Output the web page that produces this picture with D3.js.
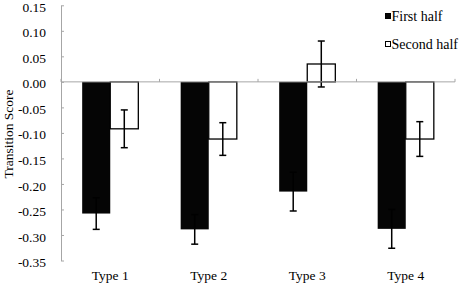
<!DOCTYPE html>
<html>
<head>
<meta charset="utf-8">
<script src="https://cdn.jsdelivr.net/npm/d3@7"></script>
<style>
  body { margin: 0; background: #fff; }
</style>
</head>
<body>
<div id="chart"></div>
<script>
const categories = ["Type 1", "Type 2", "Type 3", "Type 4"];
const seriesNames = ["First half", "Second half"];
const firstHalf = [-0.258, -0.289, -0.215, -0.288];
const secondHalf = [-0.092, -0.112, 0.035, -0.112];
const firstErr = [0.031, 0.029, 0.038, 0.038];
const secondErr = [0.037, 0.032, 0.045, 0.034];
const yTicks = [0.15, 0.10, 0.05, 0.00, -0.05, -0.10, -0.15, -0.20, -0.25, -0.30, -0.35];

const width = 461, height = 287;
const axisColor = "#a6a6a6";
const font = "'Liberation Serif', 'Times New Roman', Times, serif";
const fontSize = 13.5;

const data = categories.map((c, i) => ({
  category: c,
  values: [
    { key: seriesNames[0], value: firstHalf[i], err: firstErr[i] },
    { key: seriesNames[1], value: secondHalf[i], err: secondErr[i] }
  ]
}));

const svg = d3.select("#chart")
  .append("svg")
  .attr("width", width)
  .attr("height", height)
  .attr("font-family", font);

const y = d3.scaleLinear()
  .domain([-0.35, 0.15])
  .range([260.5, 5.3]);

const x0 = d3.scaleBand()
  .domain(categories)
  .range([61, 455])
  .paddingInner(0.43)
  .paddingOuter(0.215);

const x1 = d3.scaleBand()
  .domain(seriesNames)
  .range([0, x0.bandwidth()]);

const fills = { "First half": "#050505", "Second half": "#ffffff" };

// y axis
const yAxis = svg.append("g")
  .attr("transform", "translate(61,0)")
  .call(d3.axisLeft(y)
    .tickValues(yTicks)
    .tickFormat(d => d.toFixed(2))
    .tickSizeInner(-3)
    .tickSizeOuter(0)
    .tickPadding(15))
  .attr("font-family", font)
  .attr("font-size", fontSize);
yAxis.select(".domain").attr("stroke", axisColor);
yAxis.selectAll(".tick line").attr("stroke", axisColor);
yAxis.selectAll(".tick text")
  .attr("fill", "#000")
  .attr("dy", "0.45em");

// bars
const groups = svg.append("g")
  .selectAll("g")
  .data(data)
  .join("g")
  .attr("transform", d => `translate(${x0(d.category)},0)`);

groups.selectAll("rect")
  .data(d => d.values)
  .join("rect")
  .attr("x", d => x1(d.key))
  .attr("y", d => y(Math.max(0, d.value)))
  .attr("width", x1.bandwidth())
  .attr("height", d => Math.abs(y(d.value) - y(0)))
  .attr("fill", d => fills[d.key])
  .attr("stroke", d => d.key === "Second half" ? "#000" : "none")
  .attr("stroke-width", 1.3);

// x axis line at zero, with ticks at category boundaries
const step = x0.step();
const boundaries = d3.range(categories.length + 1).map(i => x0.range()[0] + i * step);
const xAxis = svg.append("g");
xAxis.append("line")
  .attr("x1", x0.range()[0])
  .attr("x2", x0.range()[1])
  .attr("y1", y(0))
  .attr("y2", y(0))
  .attr("stroke", axisColor);
xAxis.selectAll(".xtick")
  .data(boundaries)
  .join("line")
  .attr("class", "xtick")
  .attr("x1", d => d)
  .attr("x2", d => d)
  .attr("y1", y(0))
  .attr("y2", y(0) - 3)
  .attr("stroke", axisColor);

// error bars
const cap = 3.5;
const errs = groups.selectAll(".err")
  .data(d => d.values)
  .join("g")
  .attr("class", "err")
  .attr("transform", d => `translate(${x1(d.key) + x1.bandwidth() / 2},0)`)
  .attr("stroke", "#000")
  .attr("stroke-width", 1.5);
errs.append("line")
  .attr("y1", d => y(d.value + d.err))
  .attr("y2", d => y(d.value - d.err));
errs.append("line")
  .attr("x1", -cap).attr("x2", cap)
  .attr("y1", d => y(d.value + d.err))
  .attr("y2", d => y(d.value + d.err));
errs.append("line")
  .attr("x1", -cap).attr("x2", cap)
  .attr("y1", d => y(d.value - d.err))
  .attr("y2", d => y(d.value - d.err));

// category labels
svg.append("g")
  .selectAll("text")
  .data(categories)
  .join("text")
  .attr("x", d => x0(d) + x0.bandwidth() / 2)
  .attr("y", 280)
  .attr("text-anchor", "middle")
  .attr("font-size", fontSize)
  .text(d => d);

// y title
svg.append("text")
  .attr("transform", "translate(13,134) rotate(-90)")
  .attr("text-anchor", "middle")
  .attr("font-size", fontSize)
  .text("Transition Score");

// legend
const legend = svg.append("g")
  .selectAll("g")
  .data(seriesNames)
  .join("g")
  .attr("transform", (d, i) => `translate(385,${13 + i * 28})`);
legend.append("rect")
  .attr("x", 0.5)
  .attr("y", 0.5)
  .attr("width", 5)
  .attr("height", 5)
  .attr("fill", d => fills[d])
  .attr("stroke", "#000")
  .attr("stroke-width", 1);
legend.append("text")
  .attr("x", 6.5)
  .attr("y", 8)
  .attr("font-size", 14)
  .text(d => d);
</script>
</body>
</html>
